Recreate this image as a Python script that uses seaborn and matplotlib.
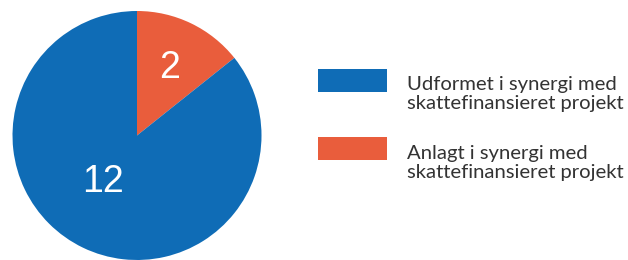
import matplotlib
matplotlib.use("Agg")
import matplotlib.pyplot as plt
from matplotlib.patches import Rectangle
import seaborn as sns

categories = ["Udformet i synergi med\nskattefinansieret projekt",
              "Anlagt i synergi med\nskattefinansieret projekt"]
values = [12, 2]
colors = ["#0f6cb6", "#e95d3c"]

sns.set_theme(style="white")
plt.rcParams['font.family'] = ['Liberation Sans', 'DejaVu Sans']

W, H = 628, 260
fig = plt.figure(figsize=(W / 100, H / 100), dpi=100)
ax = fig.add_axes([12.5 / W, 0.0 / H, 249 / W, 249 / H])

# draw orange first from top clockwise, then blue
order = [1, 0]
wedges, texts, autotexts = ax.pie(
    [values[i] for i in order],
    colors=[colors[i] for i in order],
    startangle=90, counterclock=False,
    autopct=lambda p: f"{round(p * sum(values) / 100)}",
    pctdistance=0.6,
    textprops=dict(color="white", fontsize=27),
    wedgeprops=dict(linewidth=0),
)
# nudge the big-slice label toward where it sits in the reference
autotexts[1].set_position((-0.27, -0.37))
ax.set_xlim(-1, 1)
ax.set_ylim(-1, 1)
ax.set_aspect("equal")

# legend: swatch aligned with the first text line
rect_tops = [69, 137]
baselines = [109.3, 177.7]   # baseline of the last line of each label
for cat, col, rt, bl in zip(categories, colors, rect_tops, baselines):
    fig.patches.append(Rectangle((318 / W, 1 - (rt + 23) / H), 69 / W, 23 / H,
                                 transform=fig.transFigure, facecolor=col,
                                 edgecolor="none"))
    fig.text(407 / W, 1 - bl / H, cat, ha="left", va="baseline",
             family="Lato", fontsize=14.6, color="#333333", linespacing=1.13)

fig.savefig("out.png", dpi=100)
